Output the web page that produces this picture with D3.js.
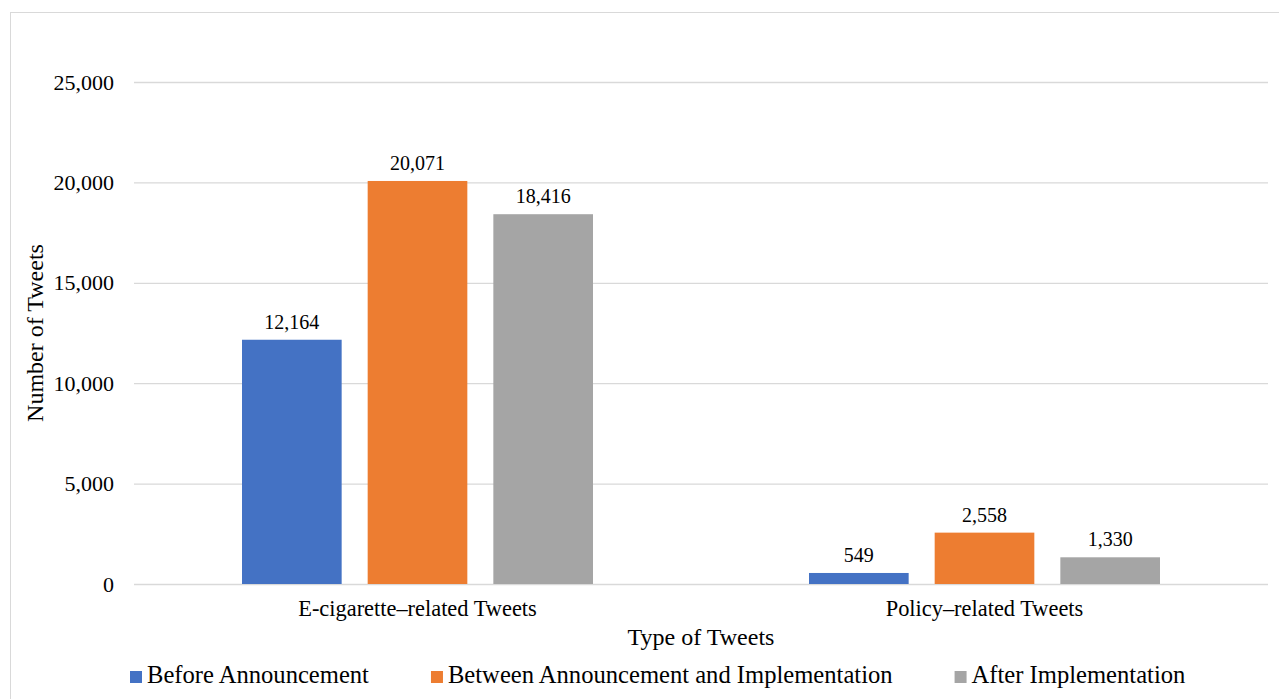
<!DOCTYPE html>
<html>
<head>
<meta charset="utf-8">
<script src="https://cdn.jsdelivr.net/npm/d3@7"></script>
<style>
  body { margin: 0; background: #fff; }
  svg { display: block; font-family: "Liberation Serif", "Times New Roman", serif; }
</style>
</head>
<body>
<script>
let categories = ["E-cigarette\u2013related Tweets", "Policy\u2013related Tweets"]
let seriesNames = ["Before Announcement", "Between Announcement and Implementation", "After Implementation"]
let beforeAnnouncement = [12164, 549]
let betweenAnnouncement = [20071, 2558]
let afterImplementation = [18416, 1330]
let yTicks = [0, 5000, 10000, 15000, 20000, 25000]
let colors = ["#4472C4", "#ED7D31", "#A5A5A5"]

let allSeries = [beforeAnnouncement, betweenAnnouncement, afterImplementation]

let width = 1279
let height = 699
let plotLeft = 134, plotRight = 1268, plotTop = 82, plotBottom = 584

let svg = d3.select("body").append("svg")
    .attr("width", width)
    .attr("height", height)

// chart area border, runs off the right and bottom
svg.append("rect")
    .attr("x", 10.5).attr("y", 12.5)
    .attr("width", 1320).attr("height", 720)
    .attr("fill", "none")
    .attr("stroke", "#d9d9d9")

let y = d3.scaleLinear().domain([0, 25000]).range([plotBottom, plotTop])
let x0 = d3.scaleBand().domain(categories).range([plotLeft, plotRight]).padding(0)
let x1 = d3.scaleBand().domain(d3.range(3))
    .range([108, x0.bandwidth() - 108])
    .paddingInner(0.207)

let fmt = d3.format(",")

// gridlines + tick labels
let yAxis = d3.axisLeft(y).tickValues(yTicks).tickFormat(fmt)
    .tickSize(-(plotRight - plotLeft)).tickPadding(20)
let gAxis = svg.append("g").attr("transform", `translate(${plotLeft},0)`).call(yAxis)
gAxis.select(".domain").remove()
gAxis.selectAll(".tick line").attr("stroke", "#d9d9d9").attr("stroke-width", 1.3)
gAxis.selectAll(".tick text")
    .attr("font-family", "Liberation Serif")
    .attr("font-size", 22)
    .attr("fill", "#000")

// bars
let groups = svg.selectAll(".grp").data(categories).enter().append("g")
    .attr("class", "grp")
    .attr("transform", d => `translate(${x0(d)},0)`)

groups.each(function(cat, ci){
    let g = d3.select(this)
    let vals = allSeries.map((s, si) => ({si: si, v: s[ci]}))
    g.selectAll("rect").data(vals).enter().append("rect")
        .attr("x", d => x1(d.si))
        .attr("y", d => y(d.v))
        .attr("width", x1.bandwidth())
        .attr("height", d => y(0) - y(d.v))
        .attr("fill", d => colors[d.si])
    g.selectAll("text").data(vals).enter().append("text")
        .attr("x", d => x1(d.si) + x1.bandwidth() / 2)
        .attr("y", d => y(d.v) - 11)
        .attr("text-anchor", "middle")
        .attr("font-size", 20)
        .text(d => fmt(d.v))
})

// category labels
let xAxis = d3.axisBottom(x0).tickSize(0).tickPadding(0)
let gx = svg.append("g").attr("transform", `translate(0,${plotBottom})`).call(xAxis)
gx.select(".domain").remove()
gx.selectAll(".tick text")
    .attr("font-family", "Liberation Serif")
    .attr("font-size", 22.4)
    .attr("fill", "#000")
    .attr("dy", 0)
    .attr("y", 32)

// axis titles
svg.append("text")
    .attr("x", (plotLeft + plotRight) / 2)
    .attr("y", 645)
    .attr("text-anchor", "middle")
    .attr("font-size", 24)
    .text("Type of Tweets")

svg.append("text")
    .attr("transform", `translate(43,${(plotTop + plotBottom) / 2}) rotate(-90)`)
    .attr("text-anchor", "middle")
    .attr("font-size", 24)
    .text("Number of Tweets")

// legend
let lx = 130
seriesNames.forEach((name, i) => {
    svg.append("rect")
        .attr("x", lx).attr("y", 671)
        .attr("width", 12).attr("height", 12)
        .attr("fill", colors[i])
    let t = svg.append("text")
        .attr("x", lx + 17)
        .attr("y", 683)
        .attr("font-size", 24.6)
        .text(name)
    let w = t.node().getComputedTextLength()
    lx = lx + 17 + w + 62
})
</script>
</body>
</html>
